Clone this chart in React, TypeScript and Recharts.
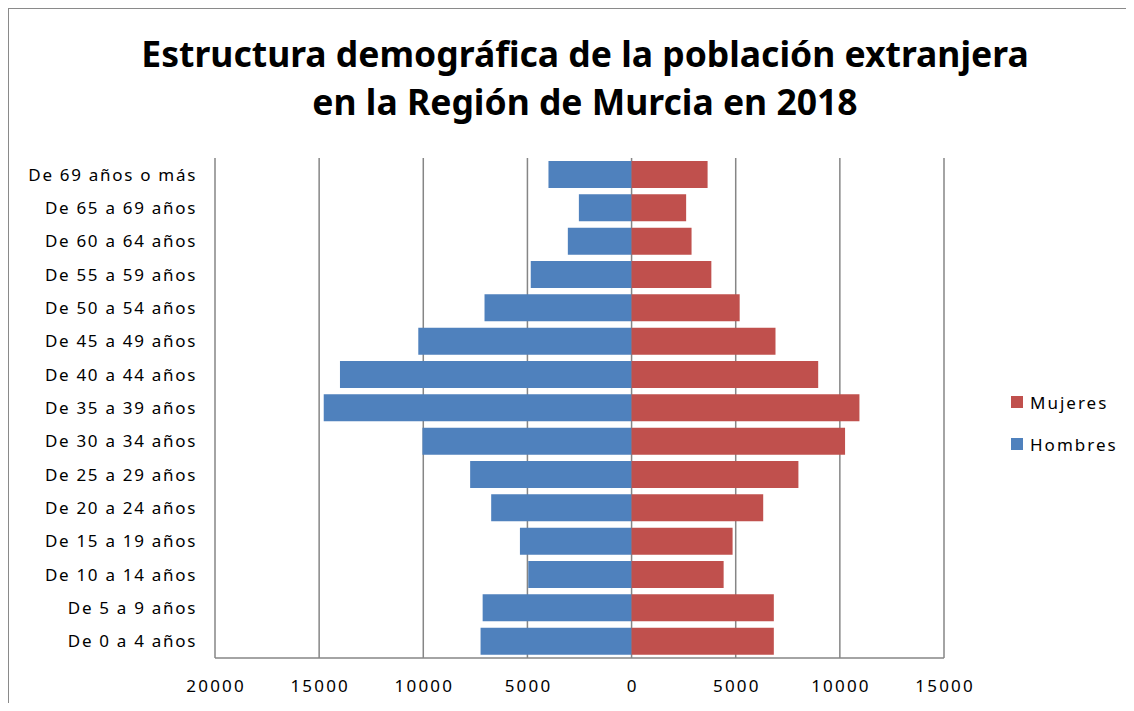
import React from "react";
import { Bar, BarChart, CartesianGrid, XAxis, YAxis } from "recharts";

const grupos = [
  "De 0 a 4 años",
  "De 5 a 9 años",
  "De 10 a 14 años",
  "De 15 a 19 años",
  "De 20 a 24 años",
  "De 25 a 29 años",
  "De 30 a 34 años",
  "De 35 a 39 años",
  "De 40 a 44 años",
  "De 45 a 49 años",
  "De 50 a 54 años",
  "De 55 a 59 años",
  "De 60 a 64 años",
  "De 65 a 69 años",
  "De 69 años o más",
];

const hombres = [7250, 7150, 4960, 5360, 6740, 7750, 10040, 14780, 14000, 10240, 7060, 4840, 3060, 2530, 3990];
const mujeres = [6830, 6830, 4420, 4850, 6320, 8010, 10250, 10940, 8960, 6910, 5190, 3830, 2880, 2620, 3650];

const xTicks = [-20000, -15000, -10000, -5000, 0, 5000, 10000, 15000];

const data = grupos.map((grupo, i) => ({
  grupo,
  Hombres: -hombres[i],
  Mujeres: mujeres[i],
}));

const FONT = "'Noto Sans', sans-serif";
const AZUL = "#4F81BD";
const ROJO = "#C0504D";

export default function App() {
  return (
    <div
      style={{
        position: "relative",
        width: 1117,
        height: 694,
        borderLeft: "1px solid #8a8a8a",
        borderTop: "1px solid #8a8a8a",
        overflow: "hidden",
        fontFamily: FONT,
        background: "#fff",
      }}
    >
      <div
        style={{
          position: "absolute",
          left: 576,
          top: 20,
          transform: "translateX(-50%)",
          whiteSpace: "nowrap",
          textAlign: "center",
          fontWeight: 700,
          fontSize: 35.5,
          lineHeight: "48px",
          color: "#000",
        }}
      >
        Estructura demográfica de la población extranjera
        <br />
        en la Región de Murcia en 2018
      </div>

      <BarChart
        width={1117}
        height={694}
        data={data}
        layout="vertical"
        stackOffset="sign"
        barSize={27}
        margin={{ top: 149, right: 182, bottom: 5, left: 16 }}
      >
        <CartesianGrid vertical horizontal={false} stroke="#868686" strokeWidth={1.5} />
        <XAxis
          type="number"
          domain={[-20000, 15000]}
          ticks={xTicks}
          interval={0}
          tickFormatter={(v: number) => String(Math.abs(v))}
          tickLine={false}
          tickMargin={16}
          height={40}
          axisLine={{ stroke: "#868686", strokeWidth: 1.5 }}
          tick={{ fontSize: 17, fill: "#000", fontFamily: FONT, letterSpacing: 2.2, dx: 1.1 }}
        />
        <YAxis
          type="category"
          dataKey="grupo"
          reversed
          width={190}
          interval={0}
          tickLine={false}
          axisLine={false}
          tickSize={6}
          tickMargin={12}
          tick={{ fontSize: 17, fill: "#000", fontFamily: FONT, letterSpacing: 1.7 }}
        />
        <Bar dataKey="Hombres" stackId="p" fill={AZUL} isAnimationActive={false} />
        <Bar dataKey="Mujeres" stackId="p" fill={ROJO} isAnimationActive={false} />
      </BarChart>

      <div style={{ position: "absolute", left: 1002, top: 372, fontSize: 17, color: "#000", letterSpacing: 2 }}>
        {[
          { nombre: "Mujeres", color: ROJO },
          { nombre: "Hombres", color: AZUL },
        ].map((s) => (
          <div key={s.nombre} style={{ display: "flex", alignItems: "center", height: 42 }}>
            <span style={{ display: "inline-block", width: 12, height: 12, background: s.color, marginRight: 7 }} />
            {s.nombre}
          </div>
        ))}
      </div>
    </div>
  );
}
